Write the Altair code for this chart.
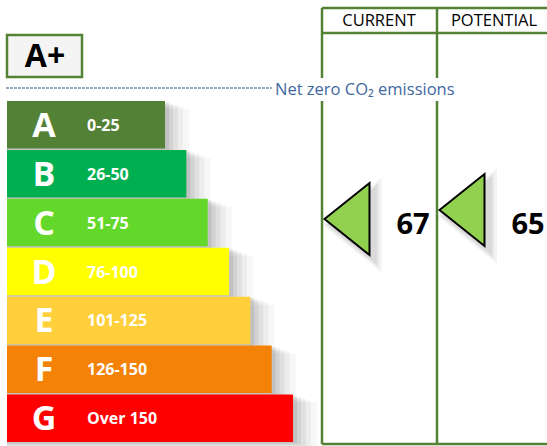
import altair as alt
import pandas as pd

# ---- data ----
letters = ["A", "B", "C", "D", "E", "F", "G"]
ranges = ["0-25", "26-50", "51-75", "76-100", "101-125", "126-150", "Over 150"]
upper = [25, 50, 75, 100, 125, 150, 175]
colors = ["#538135", "#00B050", "#64D82A", "#FFFF00", "#FFCF3C", "#F38206", "#FF0000"]
columns = ["CURRENT", "POTENTIAL"]
ratings = [67, 65]

bands = pd.DataFrame({"letter": letters, "range": ranges, "upper": upper})
scores = pd.DataFrame({"column": columns, "rating": ratings, "label": [str(r) for r in ratings]})
dummy = pd.DataFrame({"k": [0]})

FONT = "Open Sans"
GREEN = "#548235"

xbar = alt.Scale(domain=[-168.4, 472.6], range=[0, 547])
yband = alt.Scale(domain=letters, range=[101, 442], paddingInner=0.03, paddingOuter=0)
xcol = alt.Scale(domain=columns, range=[322, 437], padding=0)
yval = alt.Scale(domain=[18.33, 117.44], range=[0, 446])


def rule(x1, y1, x2, y2, color, width, dash=None):
    kw = dict(color=color, strokeWidth=width)
    if dash:
        kw["strokeDash"] = dash
    return alt.Chart(dummy).mark_rule(**kw).encode(
        x=alt.value(x1), y=alt.value(y1), x2=alt.value(x2), y2=alt.value(y2)
    )


layers = []

# soft shadows of bars
for k, op in [(24, 0.03), (18, 0.04), (13, 0.05), (8, 0.06), (4, 0.08)]:
    layers.append(
        alt.Chart(bands).mark_rect(color="#000000", opacity=op, xOffset=k, yOffset=k / 3, y2Offset=k / 3).encode(
            x=alt.X("upper:Q", scale=xbar, axis=None),
            x2=alt.value(7),
            y=alt.Y("letter:N", scale=yband, axis=None),
        )
    )

# bars
layers.append(
    alt.Chart(bands).mark_rect().encode(
        x=alt.X("upper:Q", scale=xbar, axis=None),
        x2=alt.value(7),
        y=alt.Y("letter:N", scale=yband, axis=None),
        color=alt.Color("letter:N", scale=alt.Scale(domain=letters, range=colors), legend=None),
    )
)
layers.append(
    alt.Chart(bands).mark_text(font=FONT, fontWeight="bold", fontSize=34, color="white", align="center", baseline="middle", dy=2).encode(
        x=alt.value(44), y=alt.Y("letter:N", scale=yband, axis=None), text="letter:N"
    )
)
layers.append(
    alt.Chart(bands).mark_text(font=FONT, fontWeight="bold", fontSize=16, color="white", align="left", baseline="middle", dy=1).encode(
        x=alt.value(87), y=alt.Y("letter:N", scale=yband, axis=None), text="range:N"
    )
)

# A+ box
layers.append(
    alt.Chart(dummy).mark_rect(fill="#F4F4F4", stroke=GREEN, strokeWidth=2.5).encode(
        x=alt.value(7), x2=alt.value(82), y=alt.value(35), y2=alt.value(77)
    )
)
layers.append(
    alt.Chart(dummy).mark_text(font=FONT, fontWeight="bold", fontSize=32, color="black", align="center", baseline="middle", text="A+").encode(
        x=alt.value(45), y=alt.value(57)
    )
)

# net zero line and label
layers.append(rule(6, 88, 272, 88, "#2E5597", 1.2, [3, 1]))
layers.append(
    alt.Chart(dummy).mark_text(font=FONT, fontSize=16.5, color="#3F68A0", align="left", baseline="middle", text="Net zero CO\u2082 emissions").encode(
        x=alt.value(275), y=alt.value(90)
    )
)

# column frame
for xx in [322, 437, 553]:
    layers.append(rule(xx, 8, xx, 78, GREEN, 2.5))
    layers.append(rule(xx, 101, xx, 444, GREEN, 2.5))
for yy in [8, 33, 444]:
    layers.append(rule(322, yy, 553, yy, GREEN, 2.5))

# headers
layers.append(
    alt.Chart(scores).mark_text(font=FONT, fontSize=16.5, color="black", align="center", baseline="middle", xOffset=57).encode(
        x=alt.X("column:N", scale=xcol, axis=None), y=alt.value(21), text="column:N"
    )
)

# arrow shadows
for s, op in [(3600, 0.04), (3000, 0.05), (2500, 0.06)]:
    layers.append(
        alt.Chart(scores).mark_point(
            shape="M-1,0L1,-1.6L1,1.6Z", size=s, filled=True, fill="#000000", opacity=op, strokeWidth=0, xOffset=30, yOffset=6
        ).encode(
            x=alt.X("column:N", scale=xcol, axis=None),
            y=alt.Y("rating:Q", scale=yval, axis=None),
        )
    )

# arrows
layers.append(
    alt.Chart(scores).mark_point(
        shape="M-1,0L1,-1.6L1,1.6Z", size=2025, filled=True, fill="#92D050", stroke="black", strokeWidth=2, opacity=1, xOffset=25
    ).encode(
        x=alt.X("column:N", scale=xcol, axis=None),
        y=alt.Y("rating:Q", scale=yval, axis=None),
    )
)
layers.append(
    alt.Chart(scores).mark_text(font=FONT, fontWeight="bold", fontSize=29, color="black", align="center", baseline="middle", xOffset=91).encode(
        x=alt.X("column:N", scale=xcol, axis=None), y=alt.value(225), text="label:N"
    )
)

chart = (
    alt.layer(*layers)
    .resolve_scale(x="independent", y="independent", color="independent")
    .properties(width=547, height=446, padding=0, autosize="none")
    .configure_view(stroke=None)
)

chart.save("out.html", embed_options={"renderer": "svg", "actions": False})
